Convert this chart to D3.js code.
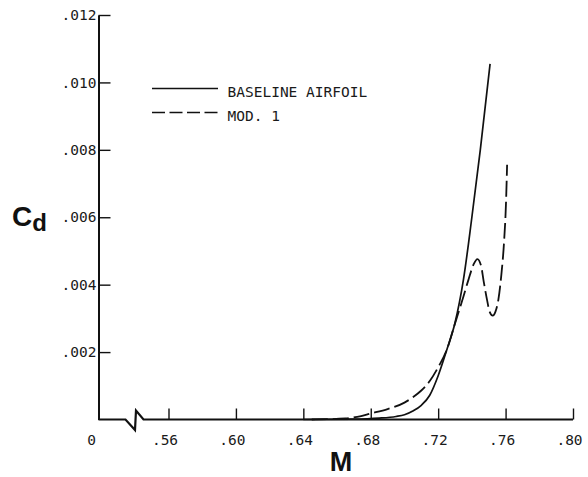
<!DOCTYPE html>
<html>
<head>
<meta charset="utf-8">
<script src="https://cdn.jsdelivr.net/npm/d3@7"></script>
<style>
  html, body { margin: 0; padding: 0; background: #fff; }
  svg { display: block; }
  .tick text, .lbl { font-family: "DejaVu Sans Mono", "Liberation Mono", monospace; font-size: 14.5px; fill: #1a1a1a; }
  .title { font-family: "Liberation Sans", Arial, sans-serif; font-weight: bold; fill: #111; }
</style>
</head>
<body>
<svg id="chart" width="588" height="477"></svg>
<script>
// Mach number tick values on the (broken) horizontal axis
const xTickValues = [0.56, 0.60, 0.64, 0.68, 0.72, 0.76, 0.80];
// Drag coefficient tick values
const yTickValues = [0.002, 0.004, 0.006, 0.008, 0.010, 0.012];

// Baseline airfoil: drag rise
const baselineMach = [0.640, 0.670, 0.685, 0.695, 0.700, 0.705, 0.710, 0.715, 0.720, 0.725, 0.730, 0.735, 0.740, 0.745, 0.7508];
const baselineCd   = [0.0, 0.00001, 0.00004, 0.00009, 0.00014, 0.00025, 0.00042, 0.00072, 0.00130, 0.00205, 0.00287, 0.00415, 0.00600, 0.00800, 0.01055];

// Modification 1: drag hump, dip, then rise
const mod1Mach = [0.645, 0.665, 0.672, 0.680, 0.690, 0.700, 0.705, 0.710, 0.715, 0.720, 0.725, 0.730, 0.735, 0.738, 0.741, 0.7433, 0.7455, 0.747, 0.749, 0.7505, 0.7524, 0.754, 0.7557, 0.7575, 0.759, 0.7603, 0.7609];
const mod1Cd   = [0.0, 0.00003, 0.00008, 0.00018, 0.00031, 0.00050, 0.00066, 0.00086, 0.00114, 0.00155, 0.00205, 0.00285, 0.00365, 0.00415, 0.00460, 0.00476, 0.00455, 0.00410, 0.00355, 0.00320, 0.00308, 0.00320, 0.00355, 0.00430, 0.00520, 0.00650, 0.00756];

const seriesNames = ["BASELINE AIRFOIL", "MOD. 1"];

const svg = d3.select("#chart");
const ink = "#111";

// Plot frame
const originX = 98.5, plotBottom = 419.5, plotTop = 15, plotRight = 573;
const axisGap = 70; // space between the origin and the first Mach tick (axis break)

const x = d3.scaleLinear().domain([0.56, 0.80]).range([originX + axisGap, plotRight]);
const y = d3.scaleLinear().domain([0, 0.012]).range([plotBottom, plotTop]);

const fmtX = d => d3.format(".2f")(d).replace(/^0/, "");
const fmtY = d => d3.format(".3f")(d).replace(/^0/, "");

// Horizontal axis: inward ticks, labels below
const gx = svg.append("g")
  .attr("transform", `translate(0,${plotBottom})`)
  .call(d3.axisBottom(x).tickValues(xTickValues).tickSizeInner(-11).tickSizeOuter(0).tickPadding(15).tickFormat(fmtX));
gx.select(".domain").remove();
gx.selectAll(".tick line").attr("stroke", ink).attr("stroke-width", 1.4);
gx.selectAll(".tick text").attr("dx", -4);
gx.append("text").attr("class", "lbl")
  .attr("x", originX - 7).attr("y", 15).attr("dy", "0.71em")
  .attr("text-anchor", "middle").text("0");

// Axis line with the break symbol near the origin
const breakPath = d3.path();
breakPath.moveTo(originX, plotBottom);
breakPath.lineTo(originX + 27, plotBottom);
breakPath.lineTo(originX + 36.5, plotBottom + 10.5);
breakPath.lineTo(originX + 37.5, plotBottom - 9);
breakPath.lineTo(originX + 45, plotBottom);
breakPath.lineTo(plotRight, plotBottom);
svg.append("path").attr("d", breakPath.toString())
  .attr("fill", "none").attr("stroke", ink).attr("stroke-width", 2.2)
  .attr("stroke-linejoin", "miter");

// Vertical axis: inward ticks, labels at the left
const gy = svg.append("g")
  .attr("transform", `translate(${originX},0)`)
  .call(d3.axisLeft(y).tickValues(yTickValues).tickSizeInner(-12).tickSizeOuter(0).tickPadding(2).tickFormat(fmtY));
gy.select(".domain").attr("stroke", ink).attr("stroke-width", 2);
gy.selectAll(".tick line").attr("stroke", ink).attr("stroke-width", 1.4);

// Curves
const line = d3.line().x(d => x(d[0])).y(d => y(d[1])).curve(d3.curveMonotoneX);
const baselinePts = baselineMach.map((m, i) => [m, baselineCd[i]]);
const mod1Pts = mod1Mach.map((m, i) => [m, mod1Cd[i]]);

svg.append("path").datum(baselinePts).attr("d", line)
  .attr("fill", "none").attr("stroke", ink).attr("stroke-width", 1.7);
svg.append("path").datum(mod1Pts).attr("d", line)
  .attr("fill", "none").attr("stroke", ink).attr("stroke-width", 1.8)
  .attr("stroke-dasharray", "16,5");

// Legend
const legend = svg.append("g");
const legendRows = [
  { name: seriesNames[0], dash: null, y: 88.5 },
  { name: seriesNames[1], dash: "13,4.5", y: 112.5 }
];
legendRows.forEach(r => {
  legend.append("line")
    .attr("x1", 152).attr("x2", 218).attr("y1", r.y).attr("y2", r.y)
    .attr("stroke", ink).attr("stroke-width", 1.7)
    .attr("stroke-dasharray", r.dash);
  legend.append("text").attr("class", "lbl")
    .attr("x", 227.5).attr("y", r.y + 8).text(r.name);
});

// Axis titles
svg.append("text").attr("class", "title")
  .attr("x", 341).attr("y", 471).attr("text-anchor", "middle")
  .attr("font-size", 27).text("M");

const cd = svg.append("text").attr("class", "title").attr("x", 12).attr("y", 226);
cd.append("tspan").attr("font-size", 28).text("C");
cd.append("tspan").attr("font-size", 24).attr("dy", 5).text("d");
</script>
</body>
</html>
